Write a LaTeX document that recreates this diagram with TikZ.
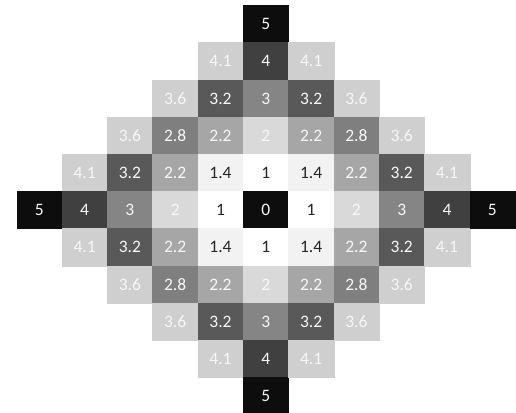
\documentclass[tikz,border=0pt]{standalone}
\usepackage{fontspec}
\setmainfont{Carlito}
\definecolor{g0}{HTML}{0D0D0D}
\definecolor{g1}{HTML}{FFFFFF}
\definecolor{g2}{HTML}{F2F2F2}
\definecolor{g4}{HTML}{D9D9D9}
\definecolor{g5}{HTML}{A6A6A6}
\definecolor{g8}{HTML}{7F7F7F}
\definecolor{g9}{HTML}{858585}
\definecolor{g10}{HTML}{595959}
\definecolor{g13}{HTML}{CFCFCF}
\definecolor{g16}{HTML}{404040}
\definecolor{g17}{HTML}{CFCFCF}
\definecolor{g25}{HTML}{0D0D0D}
\definecolor{lighttext}{HTML}{F7F7F7}
\definecolor{darktext}{HTML}{262626}
\tikzset{
  cell/.style={rectangle, minimum width=45.3pt, minimum height=37.2pt, inner sep=0pt,
    line width=0.3pt, font=\fontsize{17.5}{20}\selectfont, text=lighttext},
  k0/.style={fill=g0, draw=g0, node contents={0}},
  k1/.style={fill=g1, draw=g1, text=darktext, node contents={1}},
  k2/.style={fill=g2, draw=g2, text=darktext, node contents={1.4}},
  k4/.style={fill=g4, draw=g4, node contents={2}},
  k5/.style={fill=g5, draw=g5, node contents={2.2}},
  k8/.style={fill=g8, draw=g8, node contents={2.8}},
  k9/.style={fill=g9, draw=g9, node contents={3}},
  k10/.style={fill=g10, draw=g10, node contents={3.2}},
  k13/.style={fill=g13, draw=g13, node contents={3.6}},
  k16/.style={fill=g16, draw=g16, node contents={4}},
  k17/.style={fill=g17, draw=g17, node contents={4.1}},
  k25/.style={fill=g25, draw=g25, node contents={5}},
}
\begin{document}
\begin{tikzpicture}[x=1pt,y=1pt]
\useasboundingbox (0,0) rectangle (516,412);
\clip (0,0) rectangle (516,412);
\foreach \i in {-5,...,5}{
  \foreach \j in {-5,...,5}{
    \pgfmathtruncatemacro\m{abs(\i)+abs(\j)}
    \pgfmathtruncatemacro\k{\i*\i+\j*\j}
    \pgfmathtruncatemacro\a{\i+5}
    \pgfmathtruncatemacro\b{\j+5}
    \ifnum\m<6
      \node[cell, k\k, name=c\a-\b, at={({265.8+45.3*\i},{202-37.2*\j})}];
    \fi
  }
}
\end{tikzpicture}
\end{document}
